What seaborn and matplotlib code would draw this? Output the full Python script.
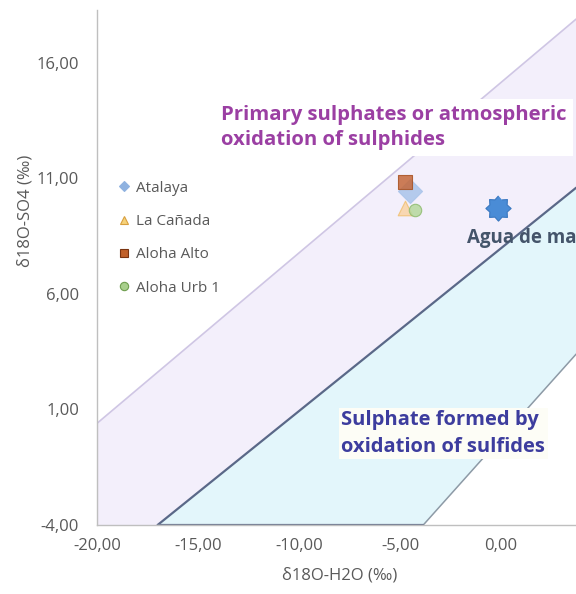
import matplotlib
matplotlib.use("Agg")
import matplotlib.pyplot as plt
import seaborn as sns
import numpy as np
from matplotlib.lines import Line2D

# ---- data ----
sites = ["Atalaya", "La Cañada", "Aloha Alto", "Aloha Urb 1"]
site_x = [-4.5, -4.75, -4.75, -4.25]
site_y = [10.45, 9.72, 10.85, 9.65]
sea_label = "Agua de mar"
sea_x = [-0.15]
sea_y = [9.72]

# field boundaries (end points)
upper_x = [-20.0, 3.72]
upper_y = [0.4, 17.9]
mid_x = [-17.0, 3.72]
mid_y = [-4.0, 10.6]
low_x = [-3.85, 3.72]
low_y = [-4.0, 3.4]

xticks = [-20, -15, -10, -5, 0]
yticks = [-4, 1, 6, 11, 16]

# ---- styling ----
sns.set_style("white")
plt.rcParams["font.family"] = ["Open Sans", "DejaVu Sans"]

markers = {"Atalaya": "D", "La Cañada": "^", "Aloha Alto": "s", "Aloha Urb 1": "o"}
face = {"Atalaya": "#a9c4ea", "La Cañada": "#f9d3a6", "Aloha Alto": "#c4683a", "Aloha Urb 1": "#b5d89c"}
edge = {"Atalaya": "#a9c4ea", "La Cañada": "#f0c070", "Aloha Alto": "#a85020", "Aloha Urb 1": "#8dbb6e"}
sizes = {"Atalaya": 150, "La Cañada": 110, "Aloha Alto": 110, "Aloha Urb 1": 80}
leg_face = {"Atalaya": "#8fb2e0", "La Cañada": "#f6d27a", "Aloha Alto": "#c0602a", "Aloha Urb 1": "#a8cf8c"}
leg_edge = {"Atalaya": "#8fb2e0", "La Cañada": "#d8a040", "Aloha Alto": "#7a3410", "Aloha Urb 1": "#6f9e4f"}

# 8-pointed badge star marker (shape only)
ang = np.linspace(0, 2 * np.pi, 17)[:-1] + np.pi / 2
rad = np.where(np.arange(16) % 2 == 0, 1.0, 0.74)
star_marker = np.column_stack([rad * np.cos(ang), rad * np.sin(ang)])

fig = plt.figure(figsize=(5.76, 5.94), dpi=100)
ax = fig.add_axes([97 / 576, 69 / 594, (576 - 97) / 576, (525 - 10) / 594])

# fills
purple_poly_x = [upper_x[0], upper_x[0], upper_x[1], mid_x[1], mid_x[0]]
purple_poly_y = [mid_y[0], upper_y[0], upper_y[1], mid_y[1], mid_y[0]]
ax.fill(purple_poly_x, purple_poly_y, color="#f3effb", lw=0, zorder=0)
cyan_poly_x = [mid_x[0], mid_x[1], low_x[1], low_x[0]]
cyan_poly_y = [mid_y[0], mid_y[1], low_y[1], low_y[0]]
ax.fill(cyan_poly_x, cyan_poly_y, color="#e3f6fb", lw=0, zorder=0)

# boundary lines
sns.lineplot(x=upper_x, y=upper_y, ax=ax, color="#cfc6e4", lw=1.2, sort=False, zorder=1)
ax.plot([upper_x[0], upper_x[0]], [mid_y[0], upper_y[0]], color="#c9bfe0", lw=1.5, zorder=1)
sns.lineplot(x=mid_x, y=mid_y, ax=ax, color="#5a6888", lw=1.6, sort=False, zorder=1)
sns.lineplot(x=low_x, y=low_y, ax=ax, color="#8d9aa6", lw=1.1, sort=False, zorder=1)
ax.plot([mid_x[0], low_x[0]], [mid_y[0], low_y[0]], color="#6d7890", lw=1.6, zorder=1)

# site points
for s, x, y in zip(sites, site_x, site_y):
    sns.scatterplot(x=[x], y=[y], ax=ax, marker=markers[s], s=sizes[s],
                    color=face[s], edgecolor=edge[s], linewidth=0.8,
                    alpha=0.85, legend=False, zorder=3)

# seawater star
sns.scatterplot(x=sea_x, y=sea_y, ax=ax, marker=star_marker, s=330,
                color="#4a8cd6", edgecolor="#3a78c0", linewidth=0.8,
                legend=False, zorder=3)
ax.text(sea_x[0] - 1.55, sea_y[0] - 1.5, sea_label, fontsize=13.5,
        fontweight="bold", color="#44546a", va="baseline", zorder=4)

# region labels (y = baseline of last line)
ax.text(-13.85, 12.45, "Primary sulphates or atmospheric\noxidation of sulphides",
        fontsize=14.6, fontweight="bold", color="#9b3fa3",
        linespacing=1.35, va="baseline", ha="left", zorder=4,
        bbox=dict(boxstyle="square,pad=0.3", fc="white", ec="none"))
ax.text(-7.9, -0.84, "Sulphate formed by\noxidation of sulfides",
        fontsize=14.5, fontweight="bold", color="#3d3d9e",
        linespacing=1.45, va="baseline", ha="left", zorder=4,
        bbox=dict(boxstyle="square,pad=0.12", fc="#fdfdf6", ec="none"))

# axes
ax.set_xlim(-20, 3.71)
ax.set_ylim(-4, 18.29)
ax.set_xticks(xticks)
ax.set_yticks(yticks)
ax.set_xticklabels([f"{v:.2f}".replace(".", ",") for v in xticks])
ax.set_yticklabels([f"{v:.2f}".replace(".", ",") for v in yticks])
for sp in ["top", "right"]:
    ax.spines[sp].set_visible(False)
for sp in ["left", "bottom"]:
    ax.spines[sp].set_color("#bfbfbf")
    ax.spines[sp].set_linewidth(1.0)
ax.tick_params(axis="x", direction="out", length=4, color="#bfbfbf", labelsize=12,
               labelcolor="#595959", pad=5)
ax.tick_params(axis="y", direction="in", length=4, color="#bfbfbf", labelsize=12,
               labelcolor="#595959", pad=13)
ax.set_xlabel("δ18O-H2O (‰)", fontsize=12, color="#595959")
ax.set_ylabel("δ18O-SO4 (‰)", fontsize=12, color="#595959")
ax.xaxis.set_label_coords((340 - 97) / 479, -(568 - 525) / 515)
ax.yaxis.set_label_coords(-(97 - 33) / 479, (525 - 211) / 515)

# legend
handles = [Line2D([], [], ls="none", marker=markers[s], markersize=6 if s != "Atalaya" else 5,
                  markerfacecolor=leg_face[s], markeredgecolor=leg_edge[s], markeredgewidth=0.8)
           for s in sites]
leg = ax.legend(handles, sites, loc="upper left", bbox_to_anchor=(112 / 576, 1 - 173 / 594),
                bbox_transform=fig.transFigure, frameon=False, fontsize=11,
                handlelength=0.6, handletextpad=0.45, labelspacing=1.2, borderpad=0)
for t in leg.get_texts():
    t.set_color("#595959")

fig.savefig("out.png", dpi=100, facecolor="white")
